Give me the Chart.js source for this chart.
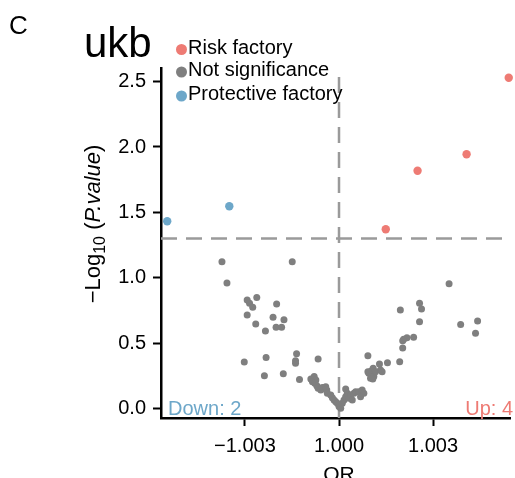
<!DOCTYPE html>
<html>
<head>
<meta charset="utf-8">
<script src="https://cdn.jsdelivr.net/npm/chart.js@4.4.1/dist/chart.umd.min.js"></script>
<style>
html,body{margin:0;padding:0;background:#fff;}
#wrap{width:515px;height:478px;position:relative;}
</style>
</head>
<body>
<div id="wrap"><canvas id="c" width="515" height="478"></canvas></div>
<script>
// ---- data (x in OR tick units, y = -log10(p)) ----
const riskX = [1.804, 1.356, 0.835, 0.497];
const riskY = [2.529, 1.944, 1.819, 1.372];
const protX = [-1.826, -1.166];
const protY = [1.433, 1.547];
const nsX = [-1.244,-0.497,-1.191,-0.976,-0.874,-0.951,-0.917,-0.663,-0.976,-0.701,-0.585,-0.885,-0.782,-0.669,-0.610,-0.451,-0.775,-1.007,-0.462,-0.462,-0.222,-0.793,-0.592,-0.420,
  -0.299,-0.264,-0.246,-0.282,-0.257,-0.236,-0.222,-0.193,-0.177,-0.141,-0.130,-0.124,-0.088,-0.071,-0.053,-0.035,-0.018,0.000,0.018,
  0.071,0.088,0.071,0.053,0.106,0.124,0.159,0.177,0.211,0.246,0.264,0.229,0.141,0.035,
  0.317,0.341,0.363,0.388,0.370,0.335,0.441,0.458,0.307,0.346,0.359,
  1.170,0.856,0.877,0.652,0.856,1.293,1.473,1.451,0.793,0.722,0.687,0.677,0.677,0.307,0.645,0.515,0.430];
const nsY = [1.124,1.124,0.962,0.832,0.850,0.807,0.776,0.802,0.718,0.700,0.682,0.649,0.595,0.624,0.624,0.422,0.392,0.359,0.369,0.349,0.382,0.254,0.269,0.224,
  0.229,0.247,0.221,0.208,0.196,0.178,0.158,0.145,0.163,0.170,0.145,0.120,0.107,0.086,0.069,0.056,0.044,0.018,0.005,
  0.153,0.120,0.094,0.069,0.082,0.107,0.120,0.132,0.132,0.145,0.120,0.094,0.069,0.044,
  0.273,0.290,0.311,0.285,0.247,0.234,0.298,0.285,0.285,0.242,0.229,
  0.956,0.807,0.763,0.756,0.666,0.644,0.672,0.578,0.547,0.544,0.532,0.521,0.466,0.407,0.361,0.353,0.344];
const xTickValues = [-1, 0, 1];
const xTickLabels = ["\u22121.003", "1.000", "1.003"];
const yTickValues = [0, 0.5, 1, 1.5, 2, 2.5];
const threshold = 1.301;
const seriesNames = ["Risk factory", "Not significance", "Protective factory"];
const upCount = 4, downCount = 2;

const RED = '#EE7B74', GREY = '#7F7F7F', BLUE = '#6DA7C9', DASH = '#9A9A9A';
const FONT = '"Liberation Sans", Arial, Helvetica, sans-serif';
const X_MIN = -1.892, X_MAX = 1.826, Y_MIN = -0.069, Y_MAX = 2.603;

const toPts = (xs, ys) => xs.map((x, i) => ({x: x, y: ys[i]}));

const textPlugin = {
  id: 'texts',
  afterDraw(chart) {
    const ctx = chart.ctx;
    const xs = chart.scales.x, ys = chart.scales.y;
    const ca = chart.chartArea;
    ctx.save();
    ctx.fillStyle = '#000';
    ctx.textBaseline = 'alphabetic';
    // panel tag
    ctx.font = '26px ' + FONT;
    ctx.textAlign = 'left';
    ctx.fillText('C', 9, 34);
    // title
    ctx.font = '42px ' + FONT;
    ctx.fillText('ukb', 84, 57);
    // legend
    const cols = [RED, GREY, BLUE];
    const rowsY = [48, 70.5, 94.5];
    ctx.font = '20px ' + FONT;
    ctx.textBaseline = 'middle';
    for (let i = 0; i < 3; i++) {
      ctx.fillStyle = cols[i];
      ctx.beginPath();
      ctx.arc(181.5, rowsY[i] + 1.5, 5.5, 0, Math.PI * 2);
      ctx.fill();
      ctx.fillStyle = '#000';
      ctx.fillText(seriesNames[i], 188, rowsY[i]);
    }
    // counts
    ctx.textBaseline = 'alphabetic';
    ctx.fillStyle = BLUE;
    ctx.textAlign = 'left';
    ctx.fillText('Down: ' + downCount, ca.left + 7, 415);
    ctx.fillStyle = RED;
    ctx.textAlign = 'right';
    ctx.fillText('Up: ' + upCount, 513, 415);
    // x title
    ctx.fillStyle = '#000';
    ctx.textAlign = 'center';
    ctx.font = '21px ' + FONT;
    ctx.fillText('OR', xs.getPixelForValue(0), 481);
    // y title (rotated, with subscript and italic)
    const parts = [
      {t: '\u2212Log', f: '22px ' + FONT, dy: 0},
      {t: '10', f: '16px ' + FONT, dy: 5},
      {t: ' (', f: '22px ' + FONT, dy: 0},
      {t: 'P.value', f: 'italic 22px ' + FONT, dy: 0},
      {t: ')', f: '22px ' + FONT, dy: 0}
    ];
    let total = 0;
    parts.forEach(p => { ctx.font = p.f; p.w = ctx.measureText(p.t).width; total += p.w; });
    ctx.translate(100, 224);
    ctx.rotate(-Math.PI / 2);
    ctx.textAlign = 'left';
    let cx = -total / 2;
    parts.forEach(p => { ctx.font = p.f; ctx.fillText(p.t, cx, p.dy); cx += p.w; });
    ctx.restore();
  }
};

new Chart(document.getElementById('c'), {
  type: 'scatter',
  data: {
    datasets: [
      {label: 'vline', type: 'line', data: [{x: 0, y: Y_MIN}, {x: 0, y: Y_MAX}], borderColor: DASH, borderWidth: 2.5, borderDash: [16, 9], pointRadius: 0, showLine: true, order: 5},
      {label: 'hline', type: 'line', data: [{x: X_MIN, y: threshold}, {x: X_MAX, y: threshold}], borderColor: DASH, borderWidth: 2.5, borderDash: [16, 9], pointRadius: 0, showLine: true, order: 5},
      {label: seriesNames[1], data: toPts(nsX, nsY), backgroundColor: GREY, pointRadius: 3.5, pointBorderWidth: 0, borderWidth: 0, order: 3},
      {label: seriesNames[0], data: toPts(riskX, riskY), backgroundColor: RED, pointRadius: 4.2, pointBorderWidth: 0, borderWidth: 0, order: 2},
      {label: seriesNames[2], data: toPts(protX, protY), backgroundColor: BLUE, pointRadius: 4.2, pointBorderWidth: 0, borderWidth: 0, order: 2}
    ]
  },
  options: {
    responsive: false,
    animation: false,
    clip: false,
    layout: {padding: {top: 68, left: 0, right: 0, bottom: 0}},
    plugins: {legend: {display: false}, tooltip: {enabled: false}},
    scales: {
      x: {
        type: 'linear', min: X_MIN, max: X_MAX,
        afterBuildTicks: s => { s.ticks = xTickValues.map(v => ({value: v})); },
        afterFit: s => { s.height = 60; },
        ticks: {
          callback: (v) => xTickLabels[xTickValues.indexOf(v)],
          color: '#000', font: {family: FONT, size: 20}, padding: 8, maxRotation: 0, autoSkip: false
        },
        grid: {display: true, drawOnChartArea: false, drawTicks: true, tickLength: 8, tickWidth: 2, tickColor: '#000'},
        border: {display: true, color: '#000', width: 2.5}
      },
      y: {
        type: 'linear', min: Y_MIN, max: Y_MAX,
        afterBuildTicks: s => { s.ticks = yTickValues.map(v => ({value: v})); },
        afterFit: s => { s.width = 161; },
        ticks: {
          callback: (v) => v.toFixed(1),
          color: '#000', font: {family: FONT, size: 20}, padding: 7, autoSkip: false
        },
        grid: {display: true, drawOnChartArea: false, drawTicks: true, tickLength: 8, tickWidth: 2, tickColor: '#000'},
        border: {display: true, color: '#000', width: 2.5}
      }
    }
  },
  plugins: [textPlugin]
});
</script>
</body>
</html>
